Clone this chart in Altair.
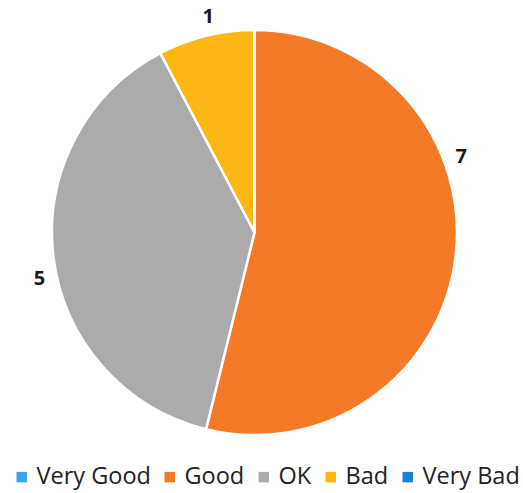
import altair as alt
import pandas as pd

categories = ["Very Good", "Good", "OK", "Bad", "Very Bad"]
values = [0, 7, 5, 1, 0]
colors = ["#3AA5E4", "#F57A28", "#ABABAB", "#FDB712", "#1E7DD8"]

df = pd.DataFrame({"category": categories, "value": values, "idx": list(range(len(categories)))})

theta = alt.Theta("value:Q", stack=True)
order = alt.Order("idx:Q")

base = alt.Chart(df)

pie = base.mark_arc(outerRadius=202.5, stroke="white", strokeWidth=2.5).encode(
    theta=theta,
    order=order,
    color=alt.Color(
        "category:N",
        scale=alt.Scale(domain=categories, range=colors),
        sort=categories,
        legend=alt.Legend(
            title=None,
            orient="none",
            direction="horizontal",
            legendX=10,
            legendY=465,
            symbolType="square",
            symbolSize=110,
            symbolStrokeWidth=0,
            labelFont="Open Sans",
            labelFontSize=23.5,
            labelColor="#222222",
            labelOffset=3,
            columnPadding=7,
            symbolOffset=0,
            padding=0,
        ),
    ),
)

def label_layer(cat, offset_rad):
    return base.mark_text(
        radius=220,
        thetaOffset=offset_rad,
        font="Open Sans",
        fontSize=20,
        fontWeight="bold",
        color="#1a1a1a",
    ).encode(
        theta=theta,
        order=order,
        text=alt.condition(f"datum.category == '{cat}'", "value:Q", alt.value("")),
    )

chart = alt.layer(
    pie,
    label_layer("Good", -0.47),
    label_layer("OK", -0.09),
    label_layer("Bad", 0.03),
).properties(
    width=509,
    height=465,
    padding={"left": 0, "top": 0, "right": 14, "bottom": 28},
    autosize=alt.AutoSizeParams(type="none"),
    background="white",
).configure_view(stroke=None)

chart.save("out.html", embed_options={"renderer": "svg", "actions": False})
